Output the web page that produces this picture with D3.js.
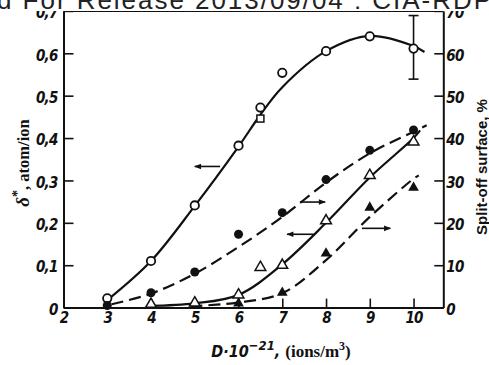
<!DOCTYPE html>
<html>
<head>
<meta charset="utf-8">
<script src="https://cdn.jsdelivr.net/npm/d3@7"></script>
<style>
  body { margin: 0; background: #fff; }
  svg { display: block; }
  .tick text { font-family: "DejaVu Sans Condensed", "DejaVu Sans", sans-serif; font-style: italic; font-weight: bold; font-size: 15px; letter-spacing: -0.8px; fill: #111; }
</style>
</head>
<body>
<svg width="489" height="365"></svg>
<script>
// tick values
const xTicks = [2, 3, 4, 5, 6, 7, 8, 9, 10];
const leftTicks = [0, 0.1, 0.2, 0.3, 0.4, 0.5, 0.6, 0.7];
const rightTicks = [0, 10, 20, 30, 40, 50, 60, 70];

// measured points, left axis (delta*, atom/ion)
const openCircles = [[3, 0.022], [4, 0.110], [5, 0.241], [6, 0.382], [6.5, 0.472], [7, 0.554], [8, 0.605], [9, 0.640], [10, 0.611]];
const openSquares = [[6.5, 0.446]];
const openTriangles = [[4, 0.008], [5, 0.011], [6, 0.030], [6.5, 0.095], [7, 0.100], [8, 0.205], [9, 0.312], [10, 0.391]];

// measured points, right axis (split-off surface, %)
const filledCircles = [[3, 0.5], [4, 3.5], [5, 8.4], [6, 17.3], [7, 22.4], [8, 30.2], [9, 37.1], [10, 41.9]];
const filledTriangles = [[6, 1.0], [7, 3.5], [8, 12.8], [9, 23.6], [10, 28.3]];

// hand drawn fit curves
const curveCircles = [[3.05, 0.022], [4, 0.11], [5, 0.24], [6, 0.38], [6.5, 0.455], [7, 0.52], [8, 0.605], [9, 0.641], [10, 0.617], [10.25, 0.603]];
const curveOpenTri = [[3.95, 0.004], [5, 0.01], [6, 0.03], [7, 0.102], [8, 0.2], [9, 0.307], [10, 0.4], [10.15, 0.418]];
const curveFilledCirc = [[3.1, 0.8], [4, 3.3], [5, 8.0], [6, 14.3], [7, 21.4], [8, 29.5], [9, 36.4], [10, 41.5], [10.3, 43.0]];
const curveFilledTri = [[4.9, 0.3], [5.5, 0.7], [6, 1.2], [7, 3.4], [8, 11.2], [9, 21.4], [10, 30.4], [10.12, 31.2]];

// arrows telling which axis a curve belongs to (left-axis units)
const arrows = [
  { from: [5.58, 0.333], to: [5.0, 0.333] },
  { from: [7.41, 0.249], to: [7.98, 0.249] },
  { from: [7.72, 0.173], to: [7.11, 0.173] },
  { from: [8.82, 0.187], to: [9.47, 0.187] }
];

// error bar on the last open circle
const errorBars = [{ x: 10, lo: 0.539, hi: 0.689 }];

const svg = d3.select("svg");

const x = d3.scaleLinear().domain([2, 10.68]).range([63.5, 443.3]);
const y = d3.scaleLinear().domain([0, 0.7]).range([307.6, 10.9]);
const yR = d3.scaleLinear().domain([0, 70]).range([307.6, 10.9]);

const commaFmt = d => d === 0 ? "0" : d3.format(".1f")(d).replace(".", ",");

// axes, ticks pointing into the plot
const gx = svg.append("g")
  .attr("transform", `translate(0,${y(0)})`)
  .call(d3.axisBottom(x).tickValues(xTicks).tickSizeInner(-9).tickSizeOuter(0).tickPadding(3).tickFormat(d3.format("d")));

const gl = svg.append("g")
  .attr("transform", `translate(${x(2)},0)`)
  .call(d3.axisLeft(y).tickValues(leftTicks).tickSizeInner(-10).tickSizeOuter(0).tickPadding(6).tickFormat(commaFmt));

const gr = svg.append("g")
  .attr("transform", `translate(${x(10.68)},0)`)
  .call(d3.axisRight(yR).tickValues(rightTicks).tickSizeInner(-9).tickSizeOuter(0).tickPadding(3).tickFormat(d3.format("d")));

[gx, gl, gr].forEach(g => {
  g.select(".domain").attr("stroke", "#111").attr("stroke-width", 2);
  g.selectAll(".tick line").attr("stroke", "#111").attr("stroke-width", 1.6);
  g.attr("font-size", null).attr("font-family", null);
});
gl.selectAll(".tick text").attr("dy", "0.45em");
gr.selectAll(".tick text").attr("dy", "0.45em");
gx.selectAll(".tick text").attr("dy", "0.8em");

// top frame line
svg.append("line")
  .attr("x1", x(2)).attr("x2", x(10.68))
  .attr("y1", y(0.7)).attr("y2", y(0.7))
  .attr("stroke", "#111").attr("stroke-width", 2);

// arrow head
svg.append("defs").append("marker")
  .attr("id", "arrow")
  .attr("viewBox", "0 -5 10 10")
  .attr("refX", 9)
  .attr("refY", 0)
  .attr("markerWidth", 9)
  .attr("markerHeight", 7)
  .attr("markerUnits", "userSpaceOnUse")
  .attr("orient", "auto")
  .append("path")
  .attr("d", "M0,-4L10,0L0,4Z")
  .attr("fill", "#111");

const lineL = d3.line().x(d => x(d[0])).y(d => y(d[1])).curve(d3.curveCatmullRom);
const lineR = d3.line().x(d => x(d[0])).y(d => yR(d[1])).curve(d3.curveCatmullRom);

const curves = svg.append("g").attr("fill", "none").attr("stroke", "#111").attr("stroke-width", 2.2);
curves.append("path").attr("d", lineL(curveCircles));
curves.append("path").attr("d", lineL(curveOpenTri));
curves.append("path").attr("d", lineR(curveFilledCirc)).attr("stroke-dasharray", "12,6");
curves.append("path").attr("d", lineR(curveFilledTri)).attr("stroke-dasharray", "12,6");

// arrows
svg.append("g").selectAll("line")
  .data(arrows)
  .join("line")
  .attr("x1", d => x(d.from[0])).attr("y1", d => y(d.from[1]))
  .attr("x2", d => x(d.to[0])).attr("y2", d => y(d.to[1]))
  .attr("stroke", "#111").attr("stroke-width", 1.6)
  .attr("marker-end", "url(#arrow)");

// error bar
const eb = svg.append("g").attr("stroke", "#111").attr("stroke-width", 1.6);
errorBars.forEach(d => {
  eb.append("line").attr("x1", x(d.x)).attr("x2", x(d.x)).attr("y1", y(d.lo)).attr("y2", y(d.hi));
  eb.append("line").attr("x1", x(d.x) - 5).attr("x2", x(d.x) + 5).attr("y1", y(d.lo)).attr("y2", y(d.lo));
  eb.append("line").attr("x1", x(d.x) - 5).attr("x2", x(d.x) + 5).attr("y1", y(d.hi)).attr("y2", y(d.hi));
});

// markers
const tri = d3.symbol().type(d3.symbolTriangle).size(50);
const marks = svg.append("g");

marks.selectAll(".oc").data(openCircles).join("circle")
  .attr("cx", d => x(d[0])).attr("cy", d => y(d[1])).attr("r", 4.2)
  .attr("fill", "#fff").attr("stroke", "#111").attr("stroke-width", 1.8);

marks.selectAll(".os").data(openSquares).join("rect")
  .attr("x", d => x(d[0]) - 3.5).attr("y", d => y(d[1]) - 3.5).attr("width", 7).attr("height", 7)
  .attr("fill", "#fff").attr("stroke", "#111").attr("stroke-width", 1.5);

marks.selectAll(".fc").data(filledCircles).join("circle")
  .attr("cx", d => x(d[0])).attr("cy", d => yR(d[1])).attr("r", 4.5)
  .attr("fill", "#111");

marks.selectAll(".ot").data(openTriangles).join("path")
  .attr("transform", d => `translate(${x(d[0])},${y(d[1])})`)
  .attr("d", tri)
  .attr("fill", "#fff").attr("stroke", "#111").attr("stroke-width", 1.5);

marks.selectAll(".ft").data(filledTriangles).join("path")
  .attr("transform", d => `translate(${x(d[0])},${yR(d[1])})`)
  .attr("d", tri)
  .attr("fill", "#111");

// axis titles
const leftTitle = svg.append("text")
  .attr("transform", "translate(29,163) rotate(-90)")
  .attr("text-anchor", "middle")
  .attr("font-family", "Liberation Serif, serif")
  .attr("font-weight", "bold")
  .attr("font-size", 16.5)
  .attr("fill", "#111");
leftTitle.append("tspan").attr("font-style", "italic").attr("font-size", 19).text("δ");
leftTitle.append("tspan").attr("dy", -7).attr("font-size", 14).text("*");
leftTitle.append("tspan").attr("dy", 7).text(", atom/ion");

svg.append("text")
  .attr("transform", "translate(487,167) rotate(-90)")
  .attr("text-anchor", "middle")
  .attr("font-family", "Liberation Sans, Arial, sans-serif")
  .attr("font-weight", "bold")
  .attr("font-size", 15)
  .attr("fill", "#111")
  .text("Split-off surface, %");

const italicFont = "DejaVu Sans Condensed, sans-serif";
const xTitle = svg.append("text")
  .attr("x", 281).attr("y", 357)
  .attr("text-anchor", "middle")
  .attr("fill", "#111");
xTitle.append("tspan")
  .attr("font-family", italicFont).attr("font-style", "italic").attr("font-weight", "bold")
  .attr("font-size", 16).text("D·10");
xTitle.append("tspan")
  .attr("font-family", italicFont).attr("font-style", "italic").attr("font-weight", "bold")
  .attr("font-size", 13).attr("dy", -7).text("−21");
xTitle.append("tspan")
  .attr("font-family", italicFont).attr("font-style", "italic").attr("font-weight", "bold")
  .attr("font-size", 16).attr("dy", 7).text(", ");
xTitle.append("tspan")
  .attr("font-family", "Liberation Serif, serif").attr("font-weight", "bold")
  .attr("font-size", 17).text("(ions/m");
xTitle.append("tspan")
  .attr("font-family", "Liberation Serif, serif").attr("font-weight", "bold")
  .attr("font-size", 12).attr("dy", -7).text("3");
xTitle.append("tspan")
  .attr("font-family", "Liberation Serif, serif").attr("font-weight", "bold")
  .attr("font-size", 17).attr("dy", 7).text(")");

// scan header band over the top edge
svg.append("rect").attr("x", 0).attr("y", 0).attr("width", 489).attr("height", 11).attr("fill", "#fff");
svg.append("text")
  .attr("x", -3).attr("y", 8.5)
  .attr("font-family", "Liberation Sans, Arial, sans-serif")
  .attr("font-size", 26)
  .attr("textLength", 494)
  .attr("lengthAdjust", "spacing")
  .attr("fill", "#222")
  .text("d For Release 2013/09/04 : CIA-RDP");
</script>
</body>
</html>
